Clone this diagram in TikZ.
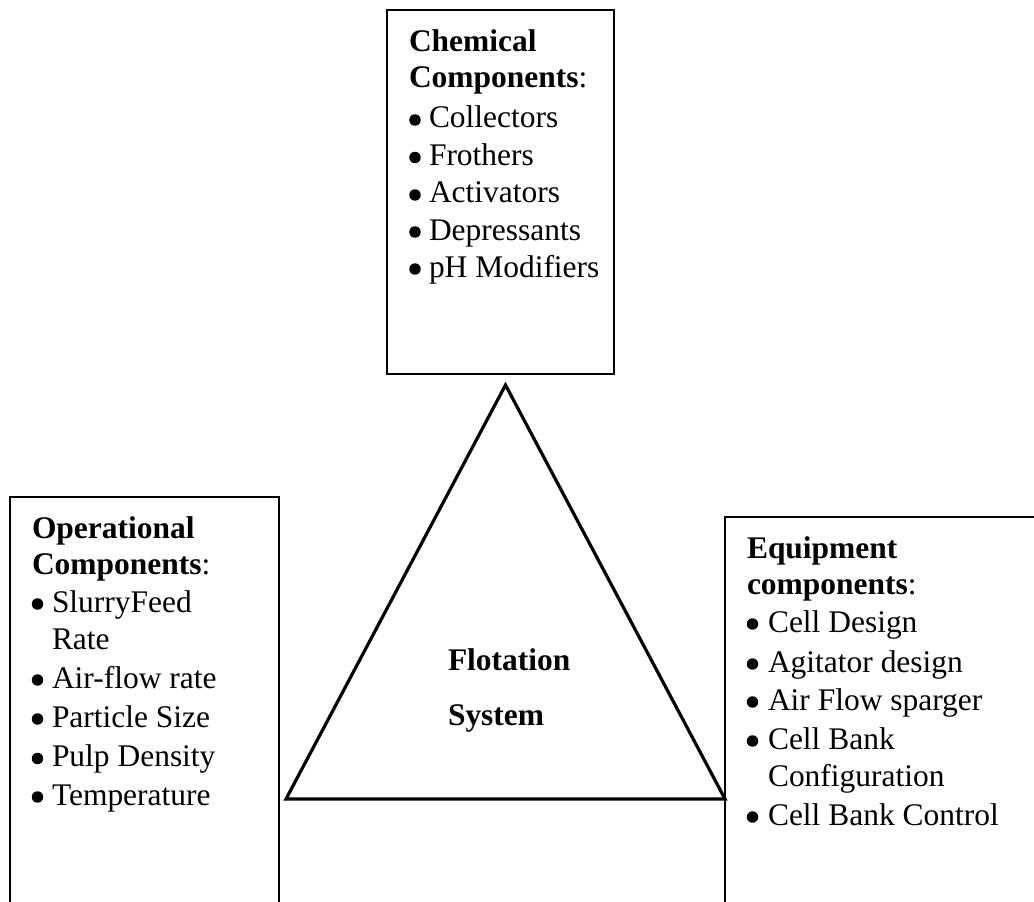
\documentclass[tikz,border=0pt]{standalone}
\usepackage{fontspec}
\setmainfont{Liberation Serif}
\begin{document}
\begin{tikzpicture}[x=0.75pt,y=-0.75pt,
  box/.style={draw=black,line width=1.95pt,fill=none},
  tri/.style={draw=black,line width=2.4pt,line join=miter},
  txt/.style={inner sep=0pt,outer sep=0pt,anchor=base west,font=\fontsize{23.6pt}{27pt}\selectfont},
  hd/.style={txt,font=\fontsize{23.6pt}{27pt}\selectfont\bfseries},
  bul/.style={fill=black}]
\useasboundingbox (0,0) rectangle (1034,902);
\clip (0,0) rectangle (1034,902);
\fill[white] (0,0) rectangle (1034,902);
% boxes
\draw[box] (387,10) rectangle (614,374);
\draw[box] (10,960) -- (10,497) -- (279,497) -- (279,960);
\draw[box] (725,960) -- (725,517) -- (1100,517);
% triangle
\coordinate (apex) at (505.5,385);
\coordinate (bl) at (286,799);
\coordinate (br) at (725,799);
\draw[tri] (apex) -- (bl) -- (br) -- cycle;
% top box text
\node[hd] (c0) at (409,52) {Chemical};
\node[hd] (c1) at (409,88) {Components\textmd{:}};
\foreach \y/\t [count=\i] in {128/Collectors,165.5/Frothers,203/Activators,240/Depressants,277/pH Modifiers}{
  \node[txt] (ci\i) at (429,\y) {\t};
  \fill[bul] (415,\y-8) circle[radius=4.3pt];
}
% left box text
\node[hd] (o0) at (32,538) {Operational};
\node[hd] (o1) at (32,574) {Components\textmd{:}};
\foreach \y/\t [count=\i] in {612/SlurryFeed,688/Air-flow rate,727/Particle Size,766.5/Pulp Density,805/Temperature}{
  \node[txt] (oi\i) at (52,\y) {\t};
  \fill[bul] (37.5,\y-8) circle[radius=4.3pt];
}
\node[txt] (oi1b) at (52,649) {Rate};
% right box text
\node[hd] (e0) at (747,558) {Equipment};
\node[hd] (e1) at (747,594) {components\textmd{:}};
\foreach \y/\t [count=\i] in {632/Cell Design,672/Agitator design,710/Air Flow sparger,749/Cell Bank,825/Cell Bank Control}{
  \node[txt] (ei\i) at (768,\y) {\t};
  \fill[bul] (752.5,\y-8) circle[radius=4.3pt];
}
\node[txt] (ei4b) at (768,786) {Configuration};
% centre text
\node[hd] (f1) at (448,670) {Flotation};
\node[hd] (f2) at (448,725) {System};
\end{tikzpicture}
\end{document}
